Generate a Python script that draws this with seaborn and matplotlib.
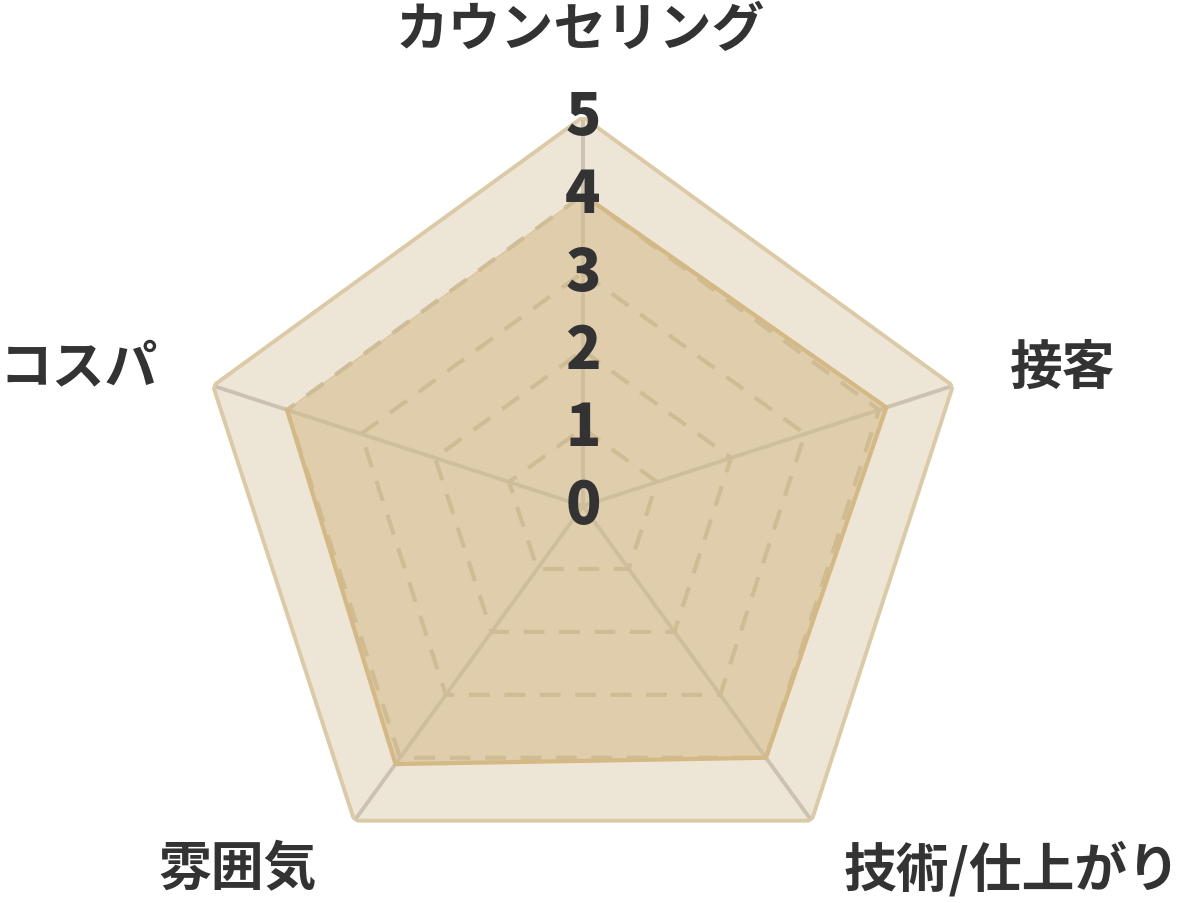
import numpy as np
import matplotlib
matplotlib.use("Agg")
import matplotlib.pyplot as plt
import seaborn as sns

# chart data
categories = ["カウンセリング", "接客", "技術/仕上がり", "雰囲気", "コスパ"]
scores = [4.0, 4.1, 4.0, 4.1, 4.0]
full_scores = [5, 5, 5, 5, 5]
tick_values = [0, 1, 2, 3, 4, 5]

sns.set_theme(style="white")
plt.rcParams['font.family'] = ['Noto Sans CJK JP', 'DejaVu Sans']

W, H = 1184, 904
fig = plt.figure(figsize=(W / 100, H / 100), dpi=100)
cx, cy, R = 583, 507, 389
ax = fig.add_axes([(cx - R) / W, (H - cy - R) / H, 2 * R / W, 2 * R / H],
                  projection='polar')
ax.set_theta_offset(np.pi / 2)
ax.set_theta_direction(-1)
ax.set_ylim(0, 5)
ax.grid(False)
ax.spines['polar'].set_visible(False)
ax.set_xticks([])
ax.set_yticks([])
ax.patch.set_alpha(0)

n = len(categories)
angles = np.linspace(0, 2 * np.pi, n, endpoint=False)
closed = np.append(angles, angles[0])

def close(vals):
    return np.append(vals, vals[0])

# full-score band
ax.fill(closed, close(full_scores), color='#ede5d6', zorder=1)

# spokes
for a in angles:
    ax.plot([a, a], [0, 5], color='#cbc2b2', lw=2.8, zorder=2,
            solid_capstyle='butt')

# dashed grid
for v in tick_values[1:-1]:
    ax.plot(closed, close([v] * n), color='#cdbfa2', lw=3.0,
            ls=(0, (5, 3.5)), zorder=2)

# score area
ax.fill(closed, close(scores), color='#d4bb8a', alpha=0.55, zorder=3)
sns.lineplot(x=closed, y=close(scores), sort=False, ax=ax,
             color='#d4b985', lw=3.0, zorder=4)
ax.plot(closed, close(full_scores), color='#dccaa6', lw=2.8, zorder=4)

# radial tick labels
for v in tick_values:
    ax.text(0, v, str(v), ha='center', va='center', fontsize=42,
            fontweight='black', color='#333333', zorder=6)

# category labels
label_pos = [(580, 30), (1063, 368), (1012, 870), (238, 870), (79, 368)]
for lab, (px, py) in zip(categories, label_pos):
    fig.text(px / W, 1 - py / H, lab, ha='center', va='center', fontsize=38,
             fontweight='bold', color='#333333')

ax.set_xlabel('')
ax.set_ylabel('')
fig.savefig('out.png', dpi=100)
